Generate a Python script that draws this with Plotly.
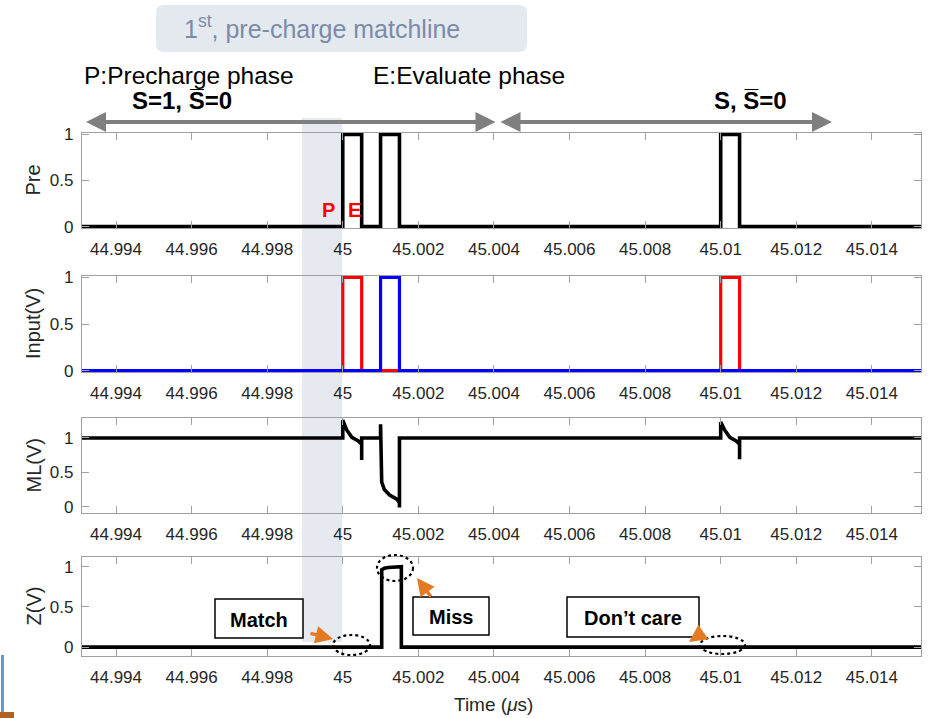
import plotly.graph_objects as go

W, H = 930, 718

# ---- shared time axis (µs) ----
t_range = [44.9931, 45.0153]
tick_vals = [44.994, 44.996, 44.998, 45.0, 45.002, 45.004, 45.006, 45.008, 45.01, 45.012, 45.014]
tick_text = ["44.994", "44.996", "44.998", "45", "45.002", "45.004",
             "45.006", "45.008", "45.01", "45.012", "45.014"]
y_ticks = [0, 0.5, 1]
y_tick_text = ["0", "0.5", "1"]

# ---- Pre: precharge control ----
pre_t = [44.9931, 45.0, 45.0, 45.0005, 45.0005, 45.001, 45.001, 45.0015, 45.0015,
         45.01, 45.01, 45.0105, 45.0105, 45.0153]
pre_v = [0, 0, 1, 1, 0, 0, 1, 1, 0, 0, 1, 1, 0, 0]

# ---- Input(V): search inputs ----
in_red_t = [44.9931, 45.0, 45.0, 45.0005, 45.0005, 45.01, 45.01, 45.0105, 45.0105, 45.0153]
in_red_v = [0, 0, 1, 1, 0, 0, 1, 1, 0, 0]
in_blue_t = [44.9931, 45.001, 45.001, 45.0015, 45.0015, 45.0153]
in_blue_v = [0, 0, 1, 1, 0, 0]

# ---- ML(V): matchline ----
ml_t = [44.9931, 45.0, 45.0, 45.0001, 45.00024, 45.0004, 45.0005, 45.0005, 45.0005,
        45.001, 45.001, 45.00103, 45.0011, 45.00124, 45.00143, 45.0015, 45.0015, 45.0015,
        45.01, 45.01, 45.0101, 45.01024, 45.0104, 45.0105, 45.0105, 45.0105, 45.0153]
ml_v = [1, 1, 1.26, 1.12, 1.01, 0.96, 0.91, 0.68, 1.0,
        1.0, 1.2, 0.36, 0.25, 0.17, 0.11, 0.06, -0.01, 1.0,
        1.0, 1.23, 1.12, 1.01, 0.96, 0.91, 0.69, 1.0, 1.0]

# ---- Z(V): output ----
z_t = [44.9931, 45.00103, 45.00103, 45.0011, 45.0012, 45.0014, 45.00155, 45.00155, 45.0153]
z_v = [0, 0, 0.96, 0.98, 0.99, 1.0, 1.0, 0, 0]

# panel layout: (title, top px, bottom px, y range)
panels = [
    ("Pre", 133, 228, [-0.015, 1.015]),
    ("Input(V)", 276, 372, [-0.015, 1.015]),
    ("ML(V)", 418, 513, [-0.09, 1.29]),
    ("Z(V)", 557, 656, [-0.11, 1.12]),
]

def fx(p):
    return p / W

def fy(p):
    return 1 - p / H

FONT = "Liberation Sans, Arial, sans-serif"
AXIS_GRAY = "#a0a0a0"
TICK_FONT = dict(family=FONT, size=17, color="#262626")

fig = go.Figure()

series = [
    (1, pre_t, pre_v, "black", 3.6),
    (2, in_red_t, in_red_v, "#ff0000", 3.2),
    (2, in_blue_t, in_blue_v, "#0000ff", 3.2),
    (3, ml_t, ml_v, "black", 3.6),
    (4, z_t, z_v, "black", 3.6),
]
for idx, t, v, col, w in series:
    sfx = "" if idx == 1 else str(idx)
    fig.add_trace(go.Scatter(x=t, y=v, mode="lines", line=dict(color=col, width=w),
                             xaxis="x" + sfx, yaxis="y" + sfx, showlegend=False,
                             hoverinfo="skip"))

layout = dict(
    template="none",
    width=W, height=H, autosize=False,
    margin=dict(l=0, r=0, t=0, b=0, pad=0, autoexpand=False),
    paper_bgcolor="white", plot_bgcolor="rgba(0,0,0,0)",
    showlegend=False,
    font=dict(family=FONT, color="#262626"),
)
for i, (title, top, bot, yr) in enumerate(panels, start=1):
    sfx = "" if i == 1 else str(i)
    layout["xaxis" + sfx] = dict(
        domain=[fx(82), fx(921)], anchor="y" + sfx, range=t_range, automargin=False,
        tickvals=tick_vals, ticktext=tick_text, ticks="inside", ticklen=7,
        tickcolor=AXIS_GRAY, showline=True, linecolor=AXIS_GRAY, linewidth=1.2,
        mirror="ticks", showgrid=False, zeroline=False, tickfont=TICK_FONT,
        ticklabelstandoff=5,
    )
    layout["yaxis" + sfx] = dict(
        domain=[fy(bot), fy(top)], anchor="x" + sfx, range=yr, automargin=False,
        tickvals=y_ticks, ticktext=y_tick_text, ticks="inside", ticklen=7,
        tickcolor=AXIS_GRAY, showline=True, linecolor=AXIS_GRAY, linewidth=1.2,
        mirror="ticks", showgrid=False, zeroline=False, tickfont=TICK_FONT,
        ticklabelstandoff=4,
    )
fig.update_layout(**layout)

annotations = []
shapes = []

def label(text, x, y, size, color="#262626", angle=0, xanchor="center"):
    annotations.append(dict(text=text, x=fx(x), y=fy(y), xref="paper", yref="paper",
                            xanchor=xanchor, yanchor="middle", showarrow=False,
                            textangle=angle, font=dict(family=FONT, size=size, color=color)))

# y-axis titles
for title, top, bot, yr in panels:
    label(title, 33, (top + bot) / 2, 20, angle=-90)

# x-axis title
label("Time (<i>μ</i>s)", 493, 704, 19)

# shaded precharge window
shapes.append(dict(type="rect", xref="paper", yref="paper", x0=fx(302), x1=fx(342),
                   y0=fy(642), y1=fy(118), fillcolor="#e6e9f0", line=dict(width=0), layer="below"))

# heading box with rounded corners
def rounded_rect(x0, y0, x1, y1, r):
    rx, ry = r / W, r / H
    X0, X1, Y0, Y1 = fx(x0), fx(x1), fy(y1), fy(y0)
    return (f"M {X0+rx},{Y0} L {X1-rx},{Y0} Q {X1},{Y0} {X1},{Y0+ry} "
            f"L {X1},{Y1-ry} Q {X1},{Y1} {X1-rx},{Y1} L {X0+rx},{Y1} "
            f"Q {X0},{Y1} {X0},{Y1-ry} L {X0},{Y0+ry} Q {X0},{Y0} {X0+rx},{Y0} Z")

shapes.append(dict(type="path", xref="paper", yref="paper", path=rounded_rect(156, 5, 527, 52, 8),
                   fillcolor="#e4e8ef", line=dict(width=0), layer="below"))
label("1<sup>st</sup>, pre-charge matchline", 182, 27, 25, color="#7c8ba6", xanchor="left")

# phase legends
label("P:Precharge phase", 82, 76, 24.5, color="black", xanchor="left")
label("E:Evaluate phase", 371, 76, 24.5, color="black", xanchor="left")

# switch-state labels and double arrows
label("<b>S=1, S\u0305=0</b>", 182, 100, 24, color="black")
label("<b>S, S\u0305=0</b>", 750, 100, 24, color="black")
for head_x, tail_x in [(86, 497), (832, 499)]:
    annotations.append(dict(text="", x=fx(head_x), y=fy(122), xref="paper", yref="paper",
                            ax=tail_x - head_x, ay=0, showarrow=True, arrowside="end+start",
                            arrowhead=2, startarrowhead=2, arrowsize=1.0, startarrowsize=1.0,
                            arrowwidth=4, arrowcolor="#7f7f7f", standoff=0, startstandoff=0))

# P / E markers
label("<b>P</b>", 328, 210, 20, color="#ff0000")
label("<b>E</b>", 354, 210, 20, color="#ff0000")

# callout boxes on the output panel
for text, x0, y0, x1, y1 in [("Match", 215, 599, 303, 638),
                             ("Miss", 413, 597, 489, 635),
                             ("Don\u2019t care", 567, 597, 699, 637)]:
    shapes.append(dict(type="rect", xref="paper", yref="paper", x0=fx(x0), x1=fx(x1),
                       y0=fy(y1), y1=fy(y0), fillcolor="white",
                       line=dict(color="black", width=1.5)))
    label(f"<b>{text}</b>", (x0 + x1) / 2, (y0 + y1) / 2 + 1, 20, color="black")

# dotted rings
for x0, y0, x1, y1 in [(333, 635, 370, 655), (377, 555, 413, 581), (700, 636, 745, 654)]:
    shapes.append(dict(type="circle", xref="paper", yref="paper", x0=fx(x0), x1=fx(x1),
                       y0=fy(y1), y1=fy(y0), line=dict(color="black", width=2.2, dash="dot")))

# orange pointers
ORANGE = "#e47b24"
for hx, hy, tx, ty in [(333, 639, 309, 633), (417, 578, 432, 598), (689, 642, 702, 633)]:
    annotations.append(dict(text="", x=fx(hx), y=fy(hy), xref="paper", yref="paper",
                            ax=tx - hx, ay=ty - hy, showarrow=True, arrowhead=2, arrowsize=1.0,
                            arrowwidth=3.5, arrowcolor=ORANGE, standoff=0))

# edge marks at lower-left
shapes.append(dict(type="line", xref="paper", yref="paper", x0=fx(2.5), x1=fx(2.5),
                   y0=fy(712), y1=fy(655), line=dict(color="#5b9bd5", width=3)))
shapes.append(dict(type="rect", xref="paper", yref="paper", x0=0, x1=fx(14),
                   y0=0, y1=fy(712), fillcolor="#b4601e", line=dict(width=0)))

fig.update_layout(annotations=annotations, shapes=shapes)
fig.write_html("out.html")
